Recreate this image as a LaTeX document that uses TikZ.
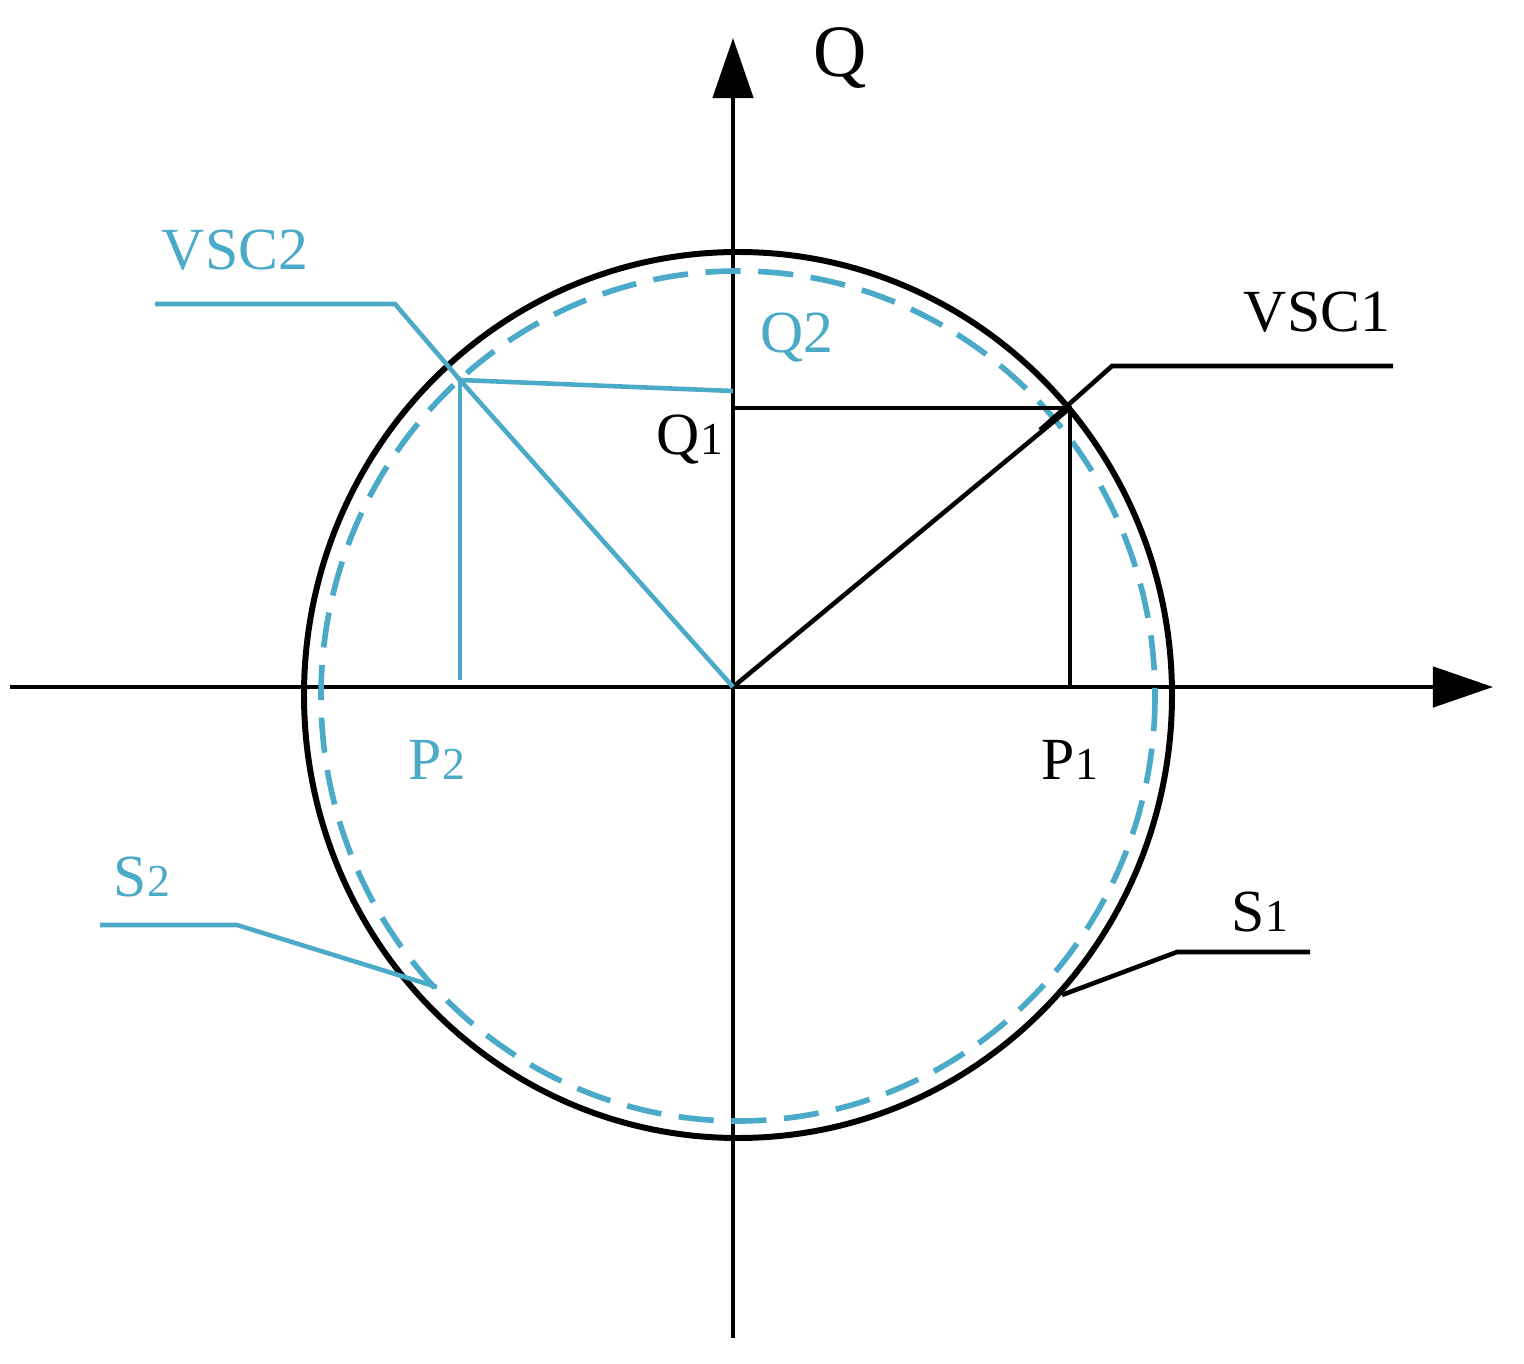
\documentclass[tikz,border=0pt]{standalone}
\usepackage{fontspec}
\setmainfont{Liberation Serif}
\usetikzlibrary{arrows.meta}
\definecolor{cy}{RGB}{75,170,200}
\begin{document}
\begin{tikzpicture}[x=0.01cm,y=-0.01cm,
  bl/.style={line width=1.3pt,black},
  cl/.style={line width=1.3pt,cy},
  lab/.style={font=\fontsize{17}{20}\selectfont,inner sep=0pt}]
\useasboundingbox (0,0) rectangle (1524,1364);
\coordinate (O) at (733,687);
\coordinate (xe) at (1493,687);
\coordinate (ye) at (733,38);
\draw[bl,-{Triangle[length=0.6cm,width=0.4cm]}] (10,687) -- (xe);
\draw[bl,-{Triangle[length=0.6cm,width=0.4cm]}] (733,1338) -- (ye);
\draw[line width=1.7pt] (738,695) ellipse [x radius=434, y radius=443];
\draw[cy,line width=1.6pt,dash pattern=on 10pt off 5pt] (738,696) ellipse [x radius=417, y radius=425];
% VSC1
\coordinate (A) at (1070,408);
\coordinate (Aq) at (733,408);
\coordinate (Ap) at (1070,687);
\draw[bl] (O) -- (A);
\draw[bl] (Aq) -- (A) -- (Ap);
\coordinate (l1a) at (1040,430);
\coordinate (l1b) at (1112,366);
\coordinate (l1c) at (1393,366);
\draw[bl] (l1a) -- (l1b) -- (l1c);
% VSC2
\coordinate (B) at (460,380);
\coordinate (Bq) at (733,391);
\coordinate (Bp) at (460,680);
\draw[cl] (O) -- (B) -- (Bq);
\draw[cl] (B) -- (Bp);
\coordinate (l2a) at (155,304);
\coordinate (l2b) at (395,304);
\draw[cl] (l2a) -- (l2b) -- (B);
% S2 leader
\coordinate (s2a) at (100,925);
\coordinate (s2b) at (237,925);
\coordinate (s2c) at (437,987);
\draw[cl] (s2a) -- (s2b) -- (s2c);
% S1 leader
\coordinate (s1a) at (1062,995);
\coordinate (s1b) at (1177,952);
\coordinate (s1c) at (1310,952);
\draw[bl] (s1a) -- (s1b) -- (s1c);
% labels
\node[lab,font=\fontsize{21}{24}\selectfont] (tQ) at (840,58) {Q};
\node[lab,cy] (tV2) at (235,250) {VSC2};
\node[lab,cy] (tQ2) at (797,338) {Q2};
\node[lab] (tV1) at (1317,312) {VSC1};
\node[lab] (tQ1) at (690,440) {Q{\fontsize{13}{15}\selectfont 1}};
\node[lab,cy] (tP2) at (437,760) {P{\fontsize{13}{15}\selectfont 2}};
\node[lab] (tP1) at (1070,760) {P{\fontsize{13}{15}\selectfont 1}};
\node[lab,cy] (tS2) at (142,877) {S{\fontsize{13}{15}\selectfont 2}};
\node[lab] (tS1) at (1260,912) {S{\fontsize{13}{15}\selectfont 1}};
\end{tikzpicture}
\end{document}
